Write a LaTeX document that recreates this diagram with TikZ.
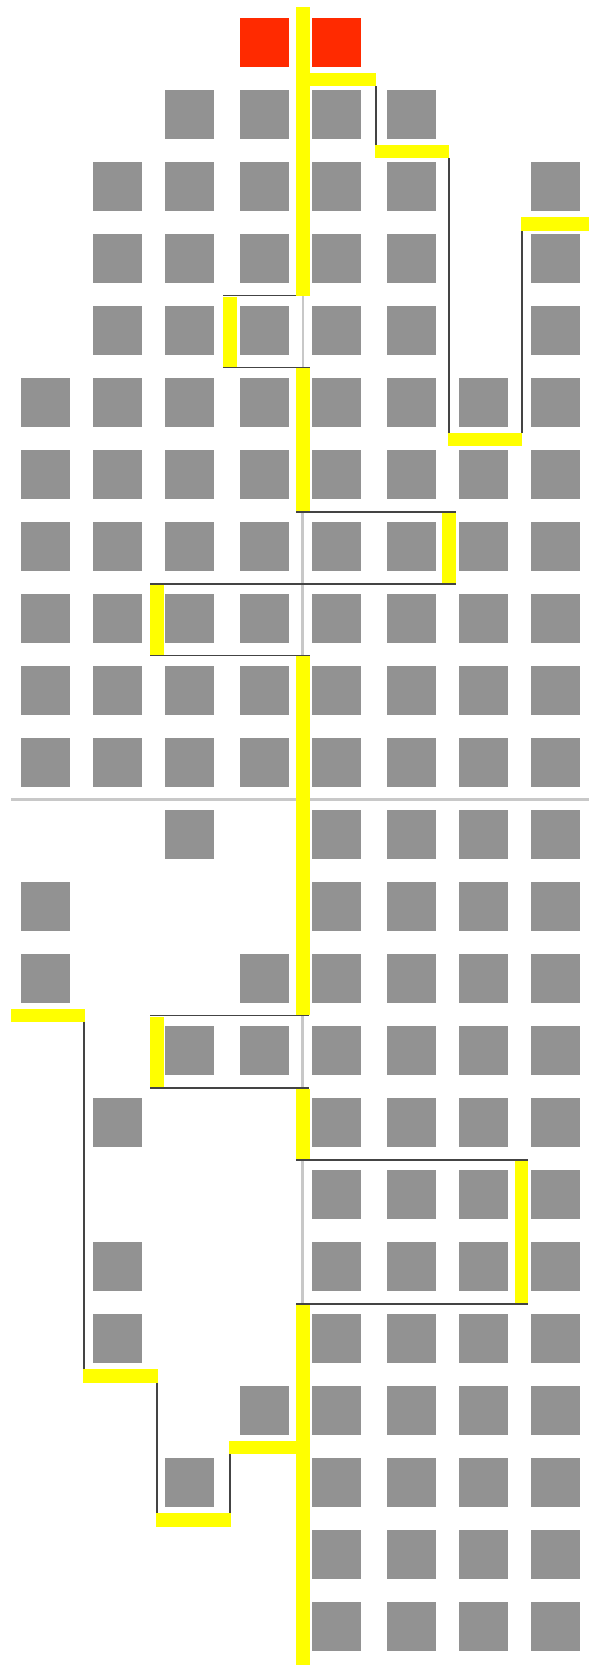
\documentclass[tikz,border=0pt]{standalone}
\definecolor{sqgray}{HTML}{929292}
\definecolor{sqred}{HTML}{FF2A00}
\definecolor{barcol}{HTML}{FFFF00}
\definecolor{thincol}{HTML}{444444}
\definecolor{faintcol}{HTML}{C8C8C8}
\tikzset{
  cell/.style={fill=sqgray, draw=none, inner sep=0pt, outer sep=0pt,
    minimum width=49pt, minimum height=49pt, anchor=north west},
  redcell/.style={cell, fill=sqred},
  ybar/.style={fill=barcol, draw=none},
  link/.style={draw=thincol, line width=1.4pt},
  ghost/.style={draw=faintcol, line width=2.5pt},
  sepline/.style={draw=faintcol, line width=3pt}
}
\begin{document}
\begin{tikzpicture}[x=1pt,y=-1pt]
\useasboundingbox[fill=white] (0,0) rectangle (589,1665);
% squares
\node[redcell] (s-0-3) at (240,17.7) {};
\node[redcell] (s-0-4) at (312,17.7) {};
\foreach \r/\cols in {1/{2,3,4,5}, 2/{1,2,3,4,5,7}, 3/{1,2,3,4,5,7}, 4/{1,2,3,4,5,7},
  5/{0,1,2,3,4,5,6,7}, 6/{0,1,2,3,4,5,6,7}, 7/{0,1,2,3,4,5,6,7}, 8/{0,1,2,3,4,5,6,7},
  9/{0,1,2,3,4,5,6,7}, 10/{0,1,2,3,4,5,6,7},
  11/{2,4,5,6,7}, 12/{0,4,5,6,7}, 13/{0,3,4,5,6,7}, 14/{2,3,4,5,6,7},
  15/{1,4,5,6,7}, 16/{4,5,6,7}, 17/{1,4,5,6,7}, 18/{1,4,5,6,7},
  19/{3,4,5,6,7}, 20/{2,4,5,6,7}, 21/{4,5,6,7}, 22/{4,5,6,7}} {
  \foreach \c in \cols {
    \pgfmathsetmacro\xx{{21,93,165,240,312,387,459,531}[\c]}
    \node[cell] (s-\r-\c) at ({\xx},{18+72*\r}) {};
  }
}
% separator
\draw[sepline] (11,799.8) -- (589,799.8);
% faint lines inside detours
\draw[ghost] (302.8,296) -- (302.8,367.5);
\draw[ghost] (302.7,512) -- (302.7,655.5);
\draw[ghost] (302.7,1016) -- (302.7,1088);
\draw[ghost] (302.6,1160) -- (302.6,1304);
% thin dark links
\draw[link] (223.3,295.7) -- (310,295.7);
\draw[link] (223.3,367.7) -- (310,367.7);
\draw[link] (296.3,511.8) -- (455.7,511.8);
\draw[link] (150.3,583.8) -- (455.7,583.8);
\draw[link] (150.3,655.5) -- (309.7,655.5);
\draw[link] (150,1015.6) -- (309.3,1015.6);
\draw[link] (150,1088) -- (309.3,1088);
\draw[link] (296,1159.8) -- (528.3,1159.8);
\draw[link] (296,1303.8) -- (528.3,1303.8);
% right chain links
\draw[link] (375.8,86) -- (375.8,145);
\draw[link] (449,158.3) -- (449,433);
\draw[link] (522,230.6) -- (522,433);
% left chain links
\draw[link] (84,1022.3) -- (84,1369.3);
\draw[link] (157,1382.7) -- (157,1513.3);
\draw[link] (230,1454.3) -- (230,1513.3);
% main yellow
\fill[ybar] (296.3,7.3) rectangle (309.7,295.5);
\fill[ybar] (296.3,367.9) rectangle (309.7,511);
\fill[ybar] (296.3,656.3) rectangle (309.7,1014.8);
\fill[ybar] (296.3,1088.8) rectangle (309.7,1159);
\fill[ybar] (296.3,1304.6) rectangle (309.7,1665);
% detour yellow
\fill[ybar] (223.3,296.6) rectangle (236.7,367.1);
\fill[ybar] (442.3,512.7) rectangle (455.7,583.1);
\fill[ybar] (150.3,584.6) rectangle (163.7,654.8);
\fill[ybar] (150.0,1016.5) rectangle (163.7,1087.2);
\fill[ybar] (515.3,1160.6) rectangle (528.3,1303.1);
% right chain bars
\fill[ybar] (296.3,72.7) rectangle (376,86);
\fill[ybar] (375.3,145) rectangle (449.3,158.3);
\fill[ybar] (448,433) rectangle (522.3,446.3);
\fill[ybar] (521,217.3) rectangle (589,230.6);
% left chain bars
\fill[ybar] (11,1009) rectangle (85,1022.3);
\fill[ybar] (83.3,1369.3) rectangle (157.7,1382.7);
\fill[ybar] (156.3,1513.3) rectangle (230.7,1526.7);
\fill[ybar] (229.3,1441) rectangle (309.3,1454.3);
\end{tikzpicture}
\end{document}
